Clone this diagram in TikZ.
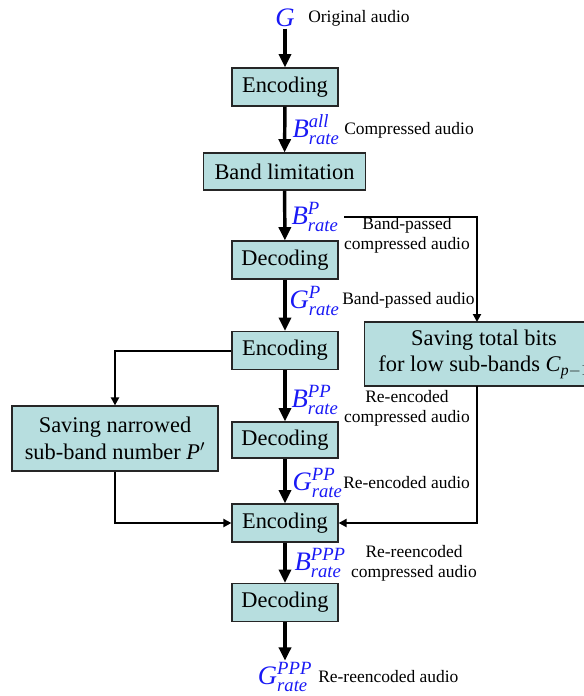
\documentclass[tikz,border=0pt]{standalone}
\usepackage{fontspec}
\setmainfont{Liberation Serif}
\usetikzlibrary{arrows.meta}
\definecolor{boxc}{RGB}{183,222,223}
\definecolor{lblue}{RGB}{25,25,245}
\newcommand\rl[3]{$\mathit{#1}^{\mathit{#2}}_{\mathit{#3}}$}
\begin{document}
\begin{tikzpicture}[x=0.75pt,y=-0.75pt,
  blk/.style={draw=black!85, fill=boxc, line width=0.9pt, font=\fontsize{16.8}{20}\selectfont, minimum width=79.5pt, minimum height=28.5pt, inner sep=2pt, align=center},
  note/.style={font=\fontsize{13.1}{15}\selectfont, inner sep=0pt, align=center},
  sym/.style={text=lblue, font=\fontsize{20}{24}\selectfont, inner sep=1pt},
  main/.style={line width=2.6pt, -{Triangle[length=10pt,width=9pt]}},
  side/.style={line width=1.5pt, -{Triangle[length=6pt,width=6pt]}}
]
\useasboundingbox (0,0) rectangle (584,696);
% main column
\node[sym] (G) at (285,18) {$\mathit{G}$};
\node[note, anchor=west] (t0) at (308,18) {Original audio};
\node[blk] (enc1) at (285,87) {Encoding};
\node[blk, minimum width=122pt, minimum height=27.75pt] (band) at (284.5,171.5) {Band limitation};
\node[blk] (dec1) at (285,260) {Decoding};
\node[blk] (enc2) at (285,350.5) {Encoding};
\node[blk, minimum height=27pt] (dec2) at (285,440) {Decoding};
\node[blk] (enc3) at (285,523) {Encoding};
\node[blk] (dec3) at (285,602.5) {Decoding};
\node[sym] (gppp) at (285,677) {\rl{G}{PPP}{rate}};
% side boxes
\node[blk, minimum width=154.5pt, minimum height=48.75pt] (lbox) at (115,438.5) {Saving narrowed\\sub-band number $\mathit{P}'$};
\node[blk, minimum width=179pt, minimum height=48pt] (rbox) at (484,354) {Saving total bits\\for low sub-bands \textit{C}$_{\mathit{p}-1}$};
\coordinate (rtop) at (477,322);
\coordinate (rbot) at (477,386);
% blue labels
\node[sym, anchor=west] (ball) at (291,130) {\rl{B}{all}{rate}};
\node[sym, anchor=west] (bp) at (290,217) {\rl{B}{P}{rate}};
\node[sym, anchor=west] (gp) at (288,301) {\rl{G}{P}{rate}};
\node[sym, anchor=west] (bpp) at (290,400) {\rl{B}{PP}{rate}};
\node[sym, anchor=west] (gpp) at (291,483) {\rl{G}{PP}{rate}};
\node[sym, anchor=west] (bppp) at (293,563) {\rl{B}{PPP}{rate}};
% notes
\node[note, anchor=west] (t1) at (344,130) {Compressed audio};
\node[note] (t2) at (407,235) {Band-passed\\compressed audio};
\node[note, anchor=west] (t3) at (342,300) {Band-passed audio};
\node[note] (t4) at (407,408) {Re-encoded\\compressed audio};
\node[note, anchor=west] (t5) at (343,483) {Re-encoded audio};
\node[note] (t6) at (414,563) {Re-reencoded\\compressed audio};
\node[note, anchor=west] (t7) at (318,677) {Re-reencoded audio};
% main arrows
\draw[main] (G) -- (enc1);
\draw[main] (enc1) -- (band);
\draw[main] (band) -- (dec1);
\draw[main] (dec1) -- (enc2);
\draw[main] (enc2) -- (dec2);
\draw[main] (dec2) -- (enc3);
\draw[main] (enc3) -- (dec3);
\draw[main] (dec3) -- (gppp);
% side arrows
\draw[side] ([xshift=3pt]bp.east) -| (rtop);
\draw[side] (rbot) |- (enc3.east);
\draw[side] (enc2.west) -| (lbox.north);
\draw[side] (lbox.south) |- (enc3.west);
\end{tikzpicture}
\end{document}
